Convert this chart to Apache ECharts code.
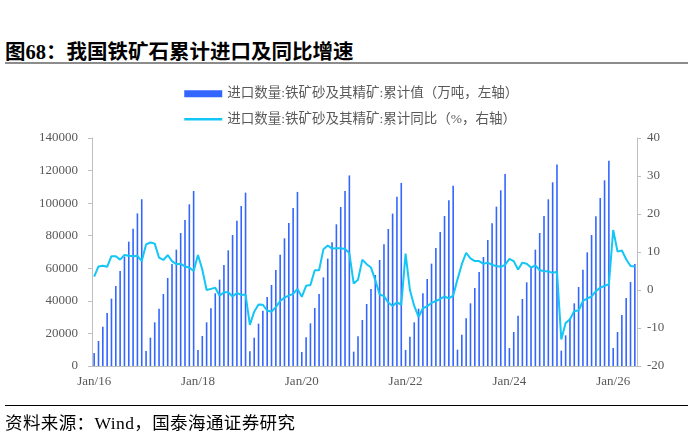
<!DOCTYPE html>
<html>
<head>
<meta charset="utf-8">
<script src="https://cdn.jsdelivr.net/npm/echarts@6/dist/echarts.min.js"></script>
<style>
  html, body { margin: 0; padding: 0; background: #fff; }
  #wrap { position: relative; width: 692px; height: 435px; overflow: hidden; }
  #chart { position: absolute; left: 0; top: 0; width: 692px; height: 435px; }
  .title {
    position: absolute; left: 5px; top: 35px;
    font-family: "Liberation Serif", "Noto Sans CJK SC", serif;
    font-weight: bold; font-size: 20.5px; color: #000; white-space: nowrap;
  }
  .title-rule { position: absolute; left: 5px; top: 62px; width: 683px; height: 2px; background: #8c8c8c; }
  .foot-rule { position: absolute; left: 5px; top: 405px; width: 683px; height: 1px; background: #000; }
  .source {
    position: absolute; left: 5px; top: 409px;
    font-family: "Liberation Serif", "Noto Sans CJK SC", serif;
    font-size: 17.5px; color: #000; white-space: nowrap; letter-spacing: 0.4px;
  }
</style>
</head>
<body>
<div id="wrap">
  <div class="title">图68：我国铁矿石累计进口及同比增速</div>
  <div class="title-rule"></div>
  <div id="chart"></div>
  <div class="foot-rule"></div>
  <div class="source">资料来源：Wind，国泰海通证券研究</div>
</div>
<script>
// 年份 / 月份
const years = ["16", "17", "18", "19", "20", "21", "22", "23", "24", "25", "26"];
const months = ["Jan", "Feb", "Mar", "Apr", "May", "Jun", "Jul", "Aug", "Sep", "Oct", "Nov", "Dec"];

// 累计值（万吨）
const cum2016 = [7980, 15350, 24150, 32550, 41350, 49130, 58340, 67140, 76350, 84340, 93750, 102410];
const cum2017 = [9210, 17400, 26820, 35210, 44200, 54040, 62640, 71440, 81680, 89660, 99280, 107470];
const cum2018 = [9830, 18420, 26820, 35410, 44620, 53020, 62020, 71030, 80450, 89250, 98260, 106450];
const cum2019 = [9010, 17400, 26000, 33980, 42370, 49740, 58950, 68370, 78400, 87820, 97030, 106900];
const cum2020 = [8600, 17600, 26200, 35620, 44220, 54450, 65910, 75940, 87000, 97640, 107470, 117010];
const cum2021 = [8800, 18220, 28250, 38070, 47290, 55880, 65090, 74720, 84130, 93550, 103990, 112430];
const cum2022 = [9830, 18010, 26820, 35210, 44620, 53430, 62840, 72460, 82290, 92120, 101740, 110690];
const cum2023 = [10030, 19240, 29270, 38480, 47900, 57730, 66940, 77380, 87610, 97850, 107880, 117910];
const cum2024 = [11050, 20880, 30910, 41140, 51380, 61000, 71440, 81680, 92120, 102350, 112790, 123660];
const cum2025 = [9420, 18830, 29270, 38480, 48510, 59160, 69800, 80450, 91910, 103170, 114020, 126100];
const cum2026 = [11050, 20880, 31320, 41760, 51590, 62640];

// 累计同比（%）
const yoy2016 = [3.5, 6.2, 6.4, 6.1, 8.9, 8.9, 8.0, 9.2, 9.0, 8.9, 9.0, 7.6];
const yoy2017 = [12.0, 12.5, 12.2, 8.5, 7.9, 9.2, 7.6, 6.8, 6.9, 6.2, 5.9, 5.0];
const yoy2018 = [9.2, 5.4, 0.0, 0.3, 0.6, -1.5, -0.6, -0.6, -1.7, -0.8, -1.3, -1.2];
const yoy2019 = [-9.2, -5.7, -3.8, -3.9, -5.4, -5.7, -4.5, -2.9, -2.0, -1.5, -1.0, 0.3];
const yoy2020 = [-1.8, 1.1, 1.3, 5.2, 5.2, 10.7, 11.7, 10.9, 11.0, 11.0, 10.8, 9.7];
const yoy2021 = [1.7, 2.7, 8.0, 6.8, 5.9, 2.6, -1.2, -1.6, -3.3, -4.2, -3.2, -3.9];
const yoy2022 = [9.6, 0.0, -4.2, -7.1, -4.8, -4.3, -3.4, -2.9, -2.4, -1.7, -2.2, -1.5];
const yoy2023 = [2.8, 6.8, 9.8, 8.3, 7.6, 7.6, 6.9, 7.2, 6.6, 6.3, 6.1, 6.6];
const yoy2024 = [8.2, 7.6, 5.4, 7.2, 6.9, 5.9, 6.5, 5.2, 5.0, 4.9, 4.5, 4.8];
const yoy2025 = [-13.0, -8.7, -7.7, -5.5, -5.4, -2.9, -2.2, -1.7, -0.3, 0.6, 1.1, 1.5];
const yoy2026 = [15.8, 10.1, 10.4, 8.1, 6.3, 6.2];

const cumValues = [].concat(cum2016, cum2017, cum2018, cum2019, cum2020, cum2021,
  cum2022, cum2023, cum2024, cum2025, cum2026);
const yoyValues = [].concat(yoy2016, yoy2017, yoy2018, yoy2019, yoy2020, yoy2021,
  yoy2022, yoy2023, yoy2024, yoy2025, yoy2026);

// x轴类目：Jan/16 ... 按数据长度截取
let categories = [];
for (let y of years) {
  for (let m of months) {
    categories.push(m + "/" + y);
  }
}
categories = categories.slice(0, cumValues.length);

const serif = "'Liberation Serif', 'Times New Roman', serif";
const legendFont = "'Liberation Serif', 'Noto Sans CJK SC', serif";
const barName = "进口数量:铁矿砂及其精矿:累计值（万吨，左轴）";
const lineName = "进口数量:铁矿砂及其精矿:累计同比（%，右轴）";

let chart = echarts.init(document.getElementById("chart"));
let option = {
  animation: false,
  legend: {
    orient: "vertical",
    left: 178,
    top: 82,
    itemGap: 12,
    itemWidth: 38,
    itemHeight: 7,
    textStyle: { color: "#595959", fontSize: 13.5, fontFamily: legendFont },
    data: [
      { name: barName, icon: "rect" },
      // 图例只要线，不要圆点
      { name: lineName, itemStyle: { opacity: 0 }, lineStyle: { width: 2.5 } },
    ],
  },
  grid: { left: 92, right: 55, top: 138, bottom: 69 },
  xAxis: {
    type: "category",
    data: categories,
    boundaryGap: true,
    axisLine: { lineStyle: { color: "#bfbfbf" } },
    axisTick: { interval: 23, length: 4, lineStyle: { color: "#bfbfbf" } },
    axisLabel: { interval: 23, color: "#595959", fontSize: 13, fontFamily: serif, margin: 9 },
  },
  yAxis: [
    {
      type: "value",
      min: 0,
      max: 140000,
      interval: 20000,
      splitLine: { show: false },
      axisLine: { show: true, lineStyle: { color: "#bfbfbf" } },
      axisTick: { show: true, length: 4, lineStyle: { color: "#bfbfbf" } },
      axisLabel: {
        color: "#595959",
        fontSize: 13,
        fontFamily: serif,
        margin: 14,
        formatter: (v) => String(v),
      },
    },
    {
      type: "value",
      min: -20,
      max: 40,
      interval: 10,
      splitLine: { show: false },
      axisLine: { show: true, lineStyle: { color: "#bfbfbf" } },
      axisTick: { show: true, length: 4, lineStyle: { color: "#bfbfbf" } },
      axisLabel: { color: "#595959", fontSize: 13, fontFamily: serif, margin: 10 },
    },
  ],
  series: [
    {
      name: barName,
      type: "bar",
      yAxisIndex: 0,
      data: cumValues,
      barWidth: 1.6,
      itemStyle: { color: "#3366ff" },
    },
    {
      name: lineName,
      type: "line",
      yAxisIndex: 1,
      data: yoyValues,
      symbol: "none",
      lineStyle: { width: 2, color: "#12c6f5" },
      itemStyle: { color: "#12c6f5" },
    },
  ],
};
chart.setOption(option);
</script>
</body>
</html>
